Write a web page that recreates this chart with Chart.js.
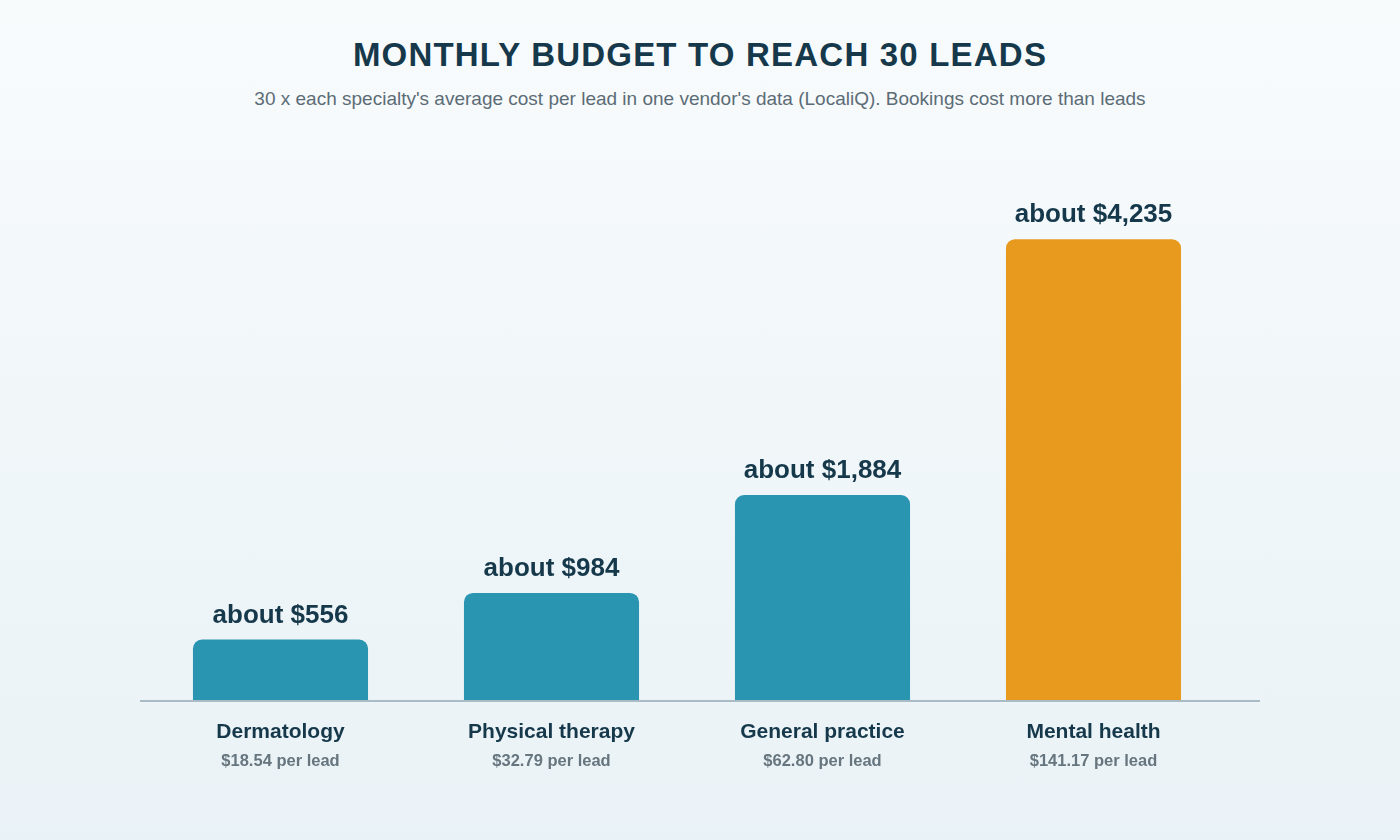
<!DOCTYPE html>
<html><head><meta charset="utf-8">
<script src="https://cdn.jsdelivr.net/npm/chart.js@4"></script>
<style>
html,body{margin:0;padding:0;width:1400px;height:840px;overflow:hidden;background:linear-gradient(#f8fbfc,#e9f2f6);font-family:"Liberation Sans",Arial,sans-serif;}
#t{position:absolute;top:36px;width:1400px;text-align:center;font-size:33px;font-weight:bold;color:#16384b;letter-spacing:1.2px;}
#s{position:absolute;top:88px;width:1400px;text-align:center;font-size:19px;color:#5c6c76;}
canvas{position:absolute;left:0;top:0;}
</style></head><body>
<div id="t">MONTHLY BUDGET TO REACH 30 LEADS</div>
<div id="s">30 x each specialty's average cost per lead in one vendor's data (LocaliQ). Bookings cost more than leads</div>
<canvas id="c" width="1400" height="840"></canvas>
<script>
const categories=["Dermatology","Physical therapy","General practice","Mental health"];
const budgets=[556,984,1884,4235];
const perLead=["$18.54 per lead","$32.79 per lead","$62.80 per lead","$141.17 per lead"];
const valueLabels=["about $556","about $984","about $1,884","about $4,235"];
const colors=["#2a95b1","#2a95b1","#2a95b1","#e89a1f"];
const labelsPlugin={id:'lbl',afterDatasetsDraw(ch){
 const c=ch.ctx,meta=ch.getDatasetMeta(0),xs=ch.scales.x,base=ch.chartArea.bottom;
 c.save();
 c.strokeStyle='#a9bcc6';c.lineWidth=2;c.beginPath();c.moveTo(140,base+1);c.lineTo(1260,base+1);c.stroke();
 c.textAlign='center';
 meta.data.forEach((b,i)=>{
  c.fillStyle='#16384b';c.font='bold 26px "Liberation Sans",Arial';c.textBaseline='bottom';
  c.fillText(valueLabels[i],b.x,b.y-11);
  const x=xs.getPixelForValue(i);c.textBaseline='middle';
  c.font='bold 21px "Liberation Sans",Arial';c.fillText(categories[i],x,732);
  c.fillStyle='#66757e';c.font='bold 16.5px "Liberation Sans",Arial';c.fillText(perLead[i],x,761);
 });c.restore();}};
new Chart(document.getElementById('c'),{type:'bar',
 data:{labels:categories,datasets:[{data:budgets,backgroundColor:colors,borderRadius:9,borderSkipped:'bottom',categoryPercentage:1,barPercentage:0.646}]},
 options:{responsive:false,animation:false,layout:{padding:{left:145,right:171,top:156,bottom:140}},
  plugins:{legend:{display:false},tooltip:{enabled:false}},
  scales:{x:{display:false},
   y:{display:false,min:0,max:5000}}},
 plugins:[labelsPlugin]});
</script></body></html>
